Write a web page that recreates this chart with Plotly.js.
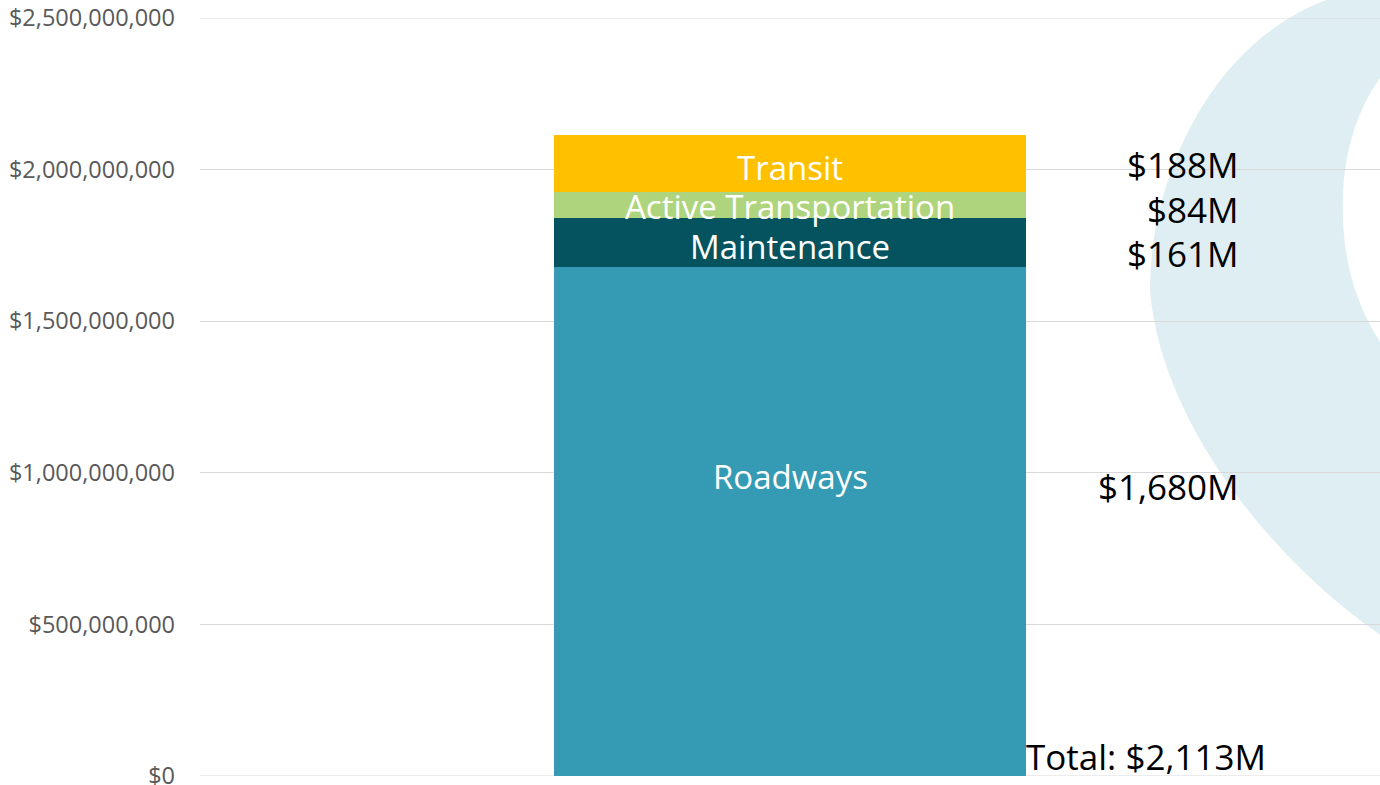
<!DOCTYPE html>
<html>
<head>
<meta charset="utf-8">
<script src="https://cdn.plot.ly/plotly-3.0.1.min.js"></script>
<style>html,body{margin:0;padding:0;background:#fff;}#chart{width:1380px;height:785px;}</style>
</head>
<body>
<div id="chart"></div>
<script>
// ---- data ----
const categories = ["Roadways", "Maintenance", "Active Transportation", "Transit"];
const values = [1680e6, 161e6, 84e6, 188e6];
const valueLabels = ["$1,680M", "$161M", "$84M", "$188M"];
const totalLabel = "Total: $2,113M";
const colors = ["#359AB3", "#04535E", "#AED57E", "#FFC000"];
const tickVals = [0, 500e6, 1000e6, 1500e6, 2000e6, 2500e6];

// ---- chart ----
const W = 1380, H = 785;
const margin = {l: 200, r: 0, t: 18, b: 9};
const plotW = W - margin.l - margin.r, plotH = H - margin.t - margin.b;
const px = x => (x - margin.l) / plotW;
const py = y => (H - margin.b - y) / plotH;
const FONT = "'Open Sans', Lato, sans-serif";

const traces = categories.map((c, i) => ({
  type: "bar",
  name: c,
  x: [""],
  y: [values[i]],
  width: [0.4],
  marker: {color: colors[i], line: {width: 0}},
  hoverinfo: "skip",
  showlegend: false
}));

// cumulative positions
const bases = [];
let acc = 0;
values.forEach(v => { bases.push(acc); acc += v; });

// inside label vertical tweak (fraction of segment) and right label offsets (px, + = up)
const insideFrac = [0.585, 0.45, 0.5, 0.5];
const insideShift = [2, -2, -1, -4];
const rightShift = [35, -11, -4, -1];

const annotations = [];
categories.forEach((c, i) => {
  annotations.push({
    x: "", y: bases[i] + values[i] * insideFrac[i], xref: "x", yref: "y",
    text: c, showarrow: false, yshift: insideShift[i],
    font: {family: FONT, size: 33, color: "#FFFFFF"},
    xanchor: "center", yanchor: "middle"
  });
  annotations.push({
    x: px(1241), y: bases[i] + values[i] / 2, xref: "paper", yref: "y",
    text: valueLabels[i], showarrow: false, yshift: rightShift[i],
    font: {family: FONT, size: 35, color: "#000000"},
    xanchor: "right", yanchor: "middle"
  });
});
annotations.push({
  x: px(1024), y: 0, xref: "paper", yref: "y",
  text: totalLabel, showarrow: false, yshift: 20,
  font: {family: FONT, size: 35, color: "#000000"},
  xanchor: "left", yanchor: "middle"
});

// decorative crescent in background
const pts = (x, y) => px(x).toFixed(4) + "," + py(y).toFixed(4);
const crescent = "M " + pts(1332, -2) +
  " C " + pts(1210, 40) + " " + pts(1150, 180) + " " + pts(1150, 290) +
  " C " + pts(1160, 420) + " " + pts(1270, 560) + " " + pts(1382, 636) +
  " L " + pts(1382, 345) +
  " C " + pts(1352, 300) + " " + pts(1341, 250) + " " + pts(1343, 195) +
  " C " + pts(1345, 145) + " " + pts(1360, 105) + " " + pts(1382, 75) +
  " L " + pts(1382, -2) + " Z";

const layout = {
  width: W, height: H,
  margin: margin,
  paper_bgcolor: "#FFFFFF",
  plot_bgcolor: "rgba(0,0,0,0)",
  barmode: "stack",
  bargap: 0,
  showlegend: false,
  xaxis: {range: [-0.5, 0.5], showticklabels: false, showgrid: false, zeroline: false, showline: false, fixedrange: true},
  yaxis: {
    range: [0, 2.5e9], tickvals: tickVals, tickformat: "$,.0f",
    showgrid: true, gridcolor: "#D9D9D9", gridwidth: 1,
    zeroline: false, showline: false, ticks: "",
    ticklabelstandoff: 24,
    ticklabeloverflow: "allow",
    tickfont: {family: FONT, size: 23.5, color: "#595959"},
    fixedrange: true
  },
  shapes: [
    {type: "path", path: crescent, xref: "paper", yref: "paper",
     fillcolor: "#DFEEF3", line: {width: 0}, layer: "below"},
    {type: "line", xref: "paper", yref: "y", x0: 0, x1: 1, y0: tickVals[0], y1: tickVals[0],
     line: {color: "#D9D9D9", width: 1}, layer: "below"},
    {type: "line", xref: "paper", yref: "y", x0: 0, x1: 1, y0: tickVals[tickVals.length - 1], y1: tickVals[tickVals.length - 1],
     line: {color: "#D9D9D9", width: 1}, layer: "below"}
  ],
  annotations: annotations
};

Plotly.newPlot("chart", traces, layout, {displayModeBar: false, staticPlot: true});
</script>
</body>
</html>
